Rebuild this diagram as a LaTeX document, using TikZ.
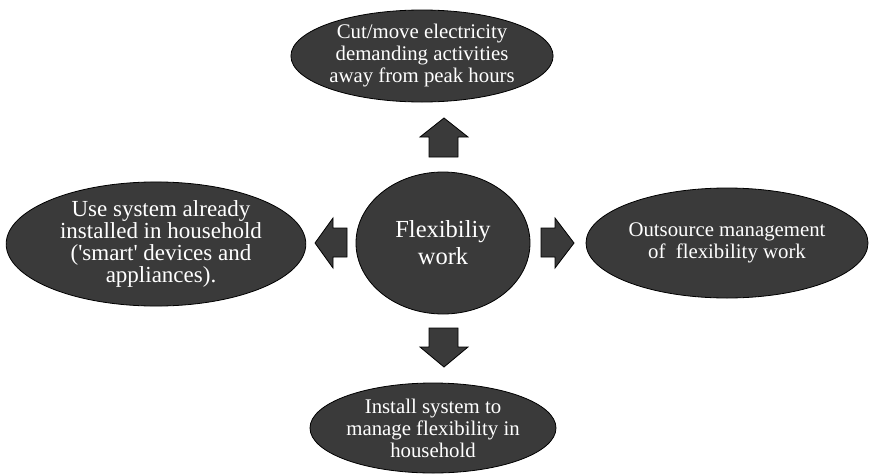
\documentclass[tikz,border=0pt]{standalone}
\usepackage{fontspec}
\setmainfont{Liberation Serif}
\usetikzlibrary{shapes.geometric}
\definecolor{blob}{HTML}{3A3A3A}
\tikzset{
  oval/.style={ellipse, draw=black, line width=0.8pt, fill=blob, text=white,
    inner sep=0pt, align=center, font=\fontsize{20.8}{22}\selectfont},
  blockarrow/.style={draw=black, line width=0.8pt, fill=blob, line join=miter}
}
\begin{document}
\begin{tikzpicture}[x=1pt,y=-1pt]
\useasboundingbox (0,0) rectangle (870,474);
\node[oval, minimum width=250pt, minimum height=92pt] (top) at (422,56)
  {Cut/move electricity\\demanding activities\\away from peak hours};
\node[oval, minimum width=174pt, minimum height=142pt, font=\fontsize{24.5}{27}\selectfont] (ctr) at (443,243)
  {Flexibiliy\\work};
\node[oval, minimum width=296pt, minimum height=108pt, font=\fontsize{23}{22.3}\selectfont] (lft) at (156,244)
  {\hspace*{10pt}Use system already\\\hspace*{10pt}installed in household\\\hspace*{10pt}(\textquotesingle smart\textquotesingle\ devices and\\\hspace*{10pt}appliances).};
\node[oval, minimum width=282pt, minimum height=110pt] (rgt) at (727,243)
  {Outsource management\\of\ \ flexibility work};
\node[oval, minimum width=246pt, minimum height=90pt] (bot) at (433,428)
  {Install system to\\manage flexibility in\\household};
% block arrows
\draw[blockarrow] (429,157) -- (429,137) -- (420,137) -- (444,118) -- (468,137) -- (458,137) -- (458,157) -- cycle;
\draw[blockarrow] (429,328) -- (429,347) -- (420,347) -- (444,367) -- (468,347) -- (458,347) -- (458,328) -- cycle;
\draw[blockarrow] (347,228) -- (333,228) -- (333,218) -- (315,243) -- (333,268) -- (333,257) -- (347,257) -- cycle;
\draw[blockarrow] (541,228) -- (555,228) -- (555,218) -- (574,243) -- (555,268) -- (555,257) -- (541,257) -- cycle;
\end{tikzpicture}
\end{document}
